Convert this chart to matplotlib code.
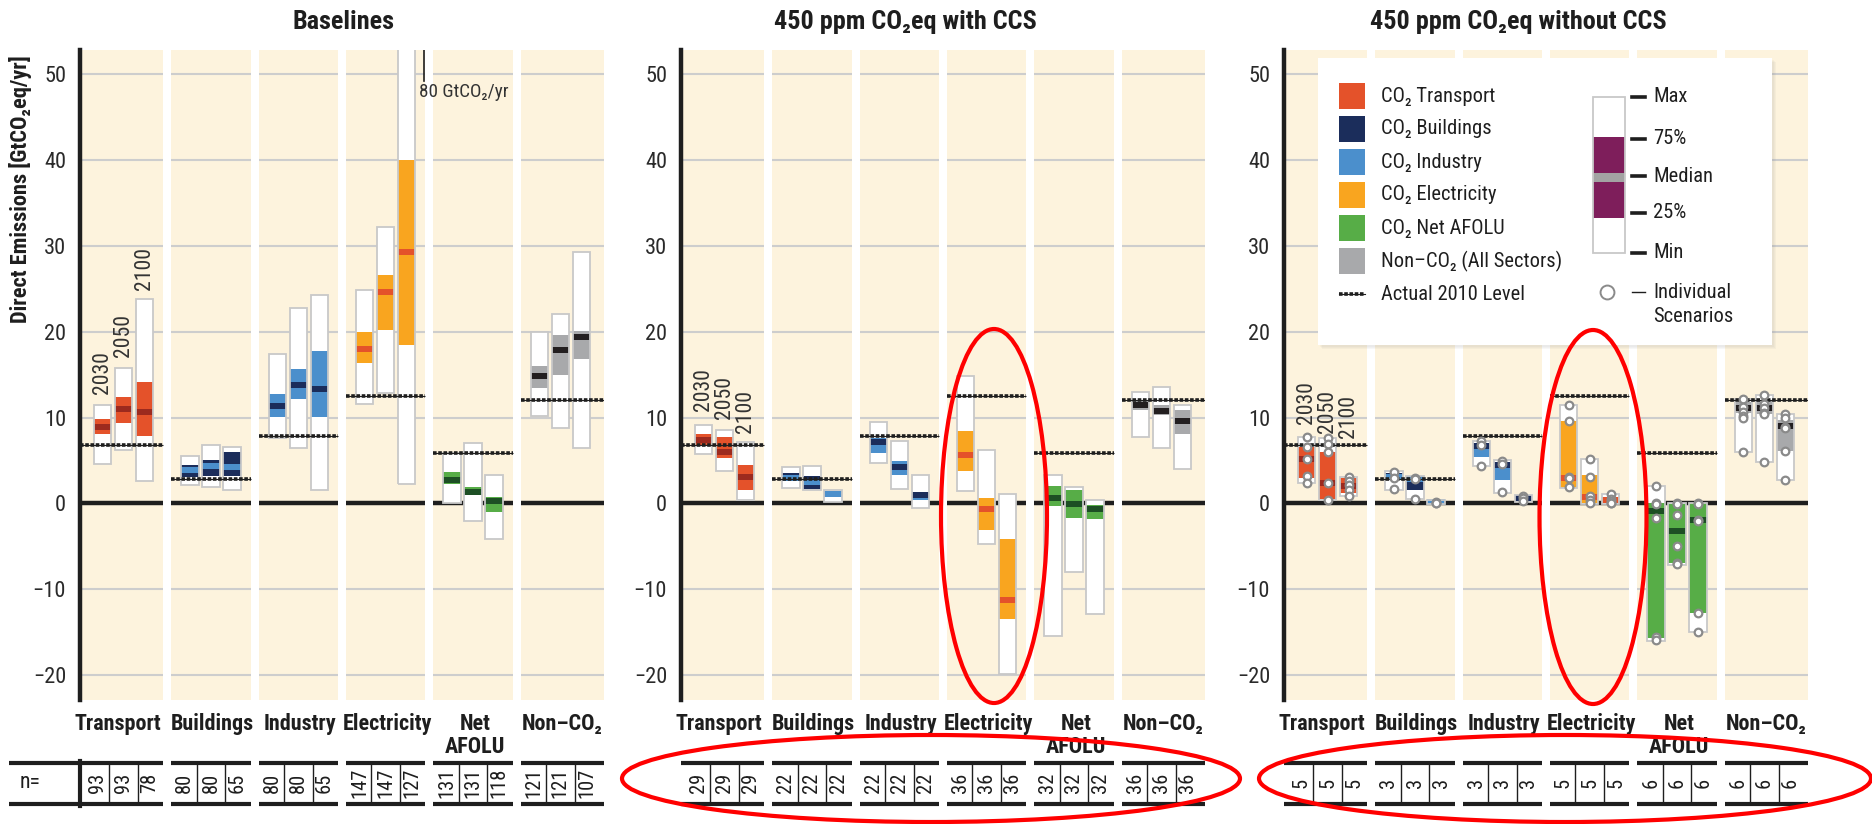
import matplotlib
matplotlib.use("Agg")
import matplotlib.pyplot as plt
from matplotlib import font_manager as fm
from matplotlib.patches import Rectangle, Ellipse
from matplotlib.lines import Line2D
from matplotlib.transforms import blended_transform_factory

sectors = ["Transport", "Buildings", "Industry", "Electricity", "Net\nAFOLU", "Non–CO₂"]
years = ["2030", "2050", "2100"]
legend_labels = ["CO₂ Transport", "CO₂ Buildings", "CO₂ Industry",
                 "CO₂ Electricity", "CO₂ Net AFOLU", "Non–CO₂ (All Sectors)"]

# actual 2010 level per sector (GtCO2eq/yr)
level_2010 = [6.8, 2.8, 7.9, 12.5, 5.9, 12.0]

# Baselines: one row per sector, columns 2030 / 2050 / 2100
base_min = [[4.6, 6.2, 2.6], [2.1, 1.9, 1.5], [7.6, 6.4, 1.5],
            [11.6, 12.8, 2.3], [0.0, -2.1, -4.2], [10.2, 8.8, 6.5]]
base_q25 = [[8.1, 9.35, 7.9], [3.1, 3.2, 3.15], [10.1, 12.2, 10.1],
            [16.4, 20.2, 18.5], [2.3, 0.95, -1.0], [13.4, 14.9, 16.85]]
base_med = [[8.95, 11.0, 10.6], [3.85, 4.3, 4.25], [11.3, 13.8, 13.3],
            [18.0, 24.6, 29.3], [2.75, 1.3, 0.25], [14.8, 17.9, 19.4]]
base_q75 = [[9.85, 12.4, 14.1], [4.5, 5.0, 5.95], [12.7, 15.7, 17.8],
            [20.0, 26.6, 40.0], [3.6, 1.95, 0.7], [16.0, 19.6, 20.1]]
base_max = [[11.4, 15.8, 23.8], [5.5, 6.8, 6.6], [17.4, 22.7, 24.3],
            [24.8, 32.2, 80.0], [5.9, 7.05, 3.3], [19.9, 22.1, 29.3]]
base_n = [[93, 93, 78], [80, 80, 65], [80, 80, 65],
          [147, 147, 127], [131, 131, 118], [121, 121, 107]]

# 450 ppm CO2eq with CCS
ccs_min = [[5.75, 3.8, 0.4], [1.75, 1.6, 0.2], [4.7, 1.7, -0.5],
           [1.45, -4.7, -19.9], [-15.5, -8.05, -12.9], [7.7, 6.4, 4.0]]
ccs_q25 = [[6.65, 5.25, 1.55], [2.6, 1.65, 0.75], [5.9, 3.3, 0.35],
           [3.8, -3.1, -13.5], [-0.3, -1.75, -1.85], [10.9, 10.3, 8.1]]
ccs_med = [[7.4, 6.0, 3.1], [3.0, 2.5, 1.05], [7.1, 4.2, 0.95],
           [5.6, -0.65, -11.2], [0.65, -0.1, -0.65], [11.4, 10.8, 9.55]]
ccs_q75 = [[8.1, 7.7, 4.5], [3.5, 3.15, 1.4], [7.6, 4.9, 1.3],
           [8.45, 0.6, -4.2], [2.0, 1.5, -0.2], [12.0, 11.5, 10.9]]
ccs_max = [[9.1, 8.5, 7.2], [4.2, 4.35, 1.55], [9.5, 7.3, 3.3],
           [14.8, 6.2, 1.05], [3.3, 1.85, 0.45], [13.0, 13.5, 11.5]]
ccs_n = [[29, 29, 29], [22, 22, 22], [22, 22, 22],
         [36, 36, 36], [32, 32, 32], [36, 36, 36]]

# 450 ppm CO2eq without CCS
noccs_min = [[2.4, 0.35, 0.8], [1.6, 0.5, -0.1], [4.35, 1.25, 0.15],
             [1.75, -0.1, -0.1], [-16.0, -7.2, -15.0], [6.0, 4.85, 2.7]]
noccs_q25 = [[2.9, 0.5, 1.2], [2.7, 1.55, 0.0], [5.4, 2.7, 0.3],
             [1.8, 0.1, 0.1], [-15.7, -7.0, -12.8], [10.5, 10.4, 6.1]]
noccs_med = [[5.2, 2.4, 2.05], [3.1, 2.85, 0.15], [6.7, 4.5, 0.6],
             [3.0, 0.7, 0.35], [-0.9, -3.2, -1.9], [11.1, 11.1, 9.0]]
noccs_q75 = [[6.6, 6.0, 2.9], [3.5, 3.0, 0.3], [7.0, 4.7, 0.8],
             [9.6, 3.3, 0.55], [0.0, -0.1, 0.0], [11.8, 12.0, 9.7]]
noccs_max = [[7.7, 7.6, 3.1], [3.8, 3.2, 0.4], [7.3, 5.0, 0.97],
             [11.5, 5.2, 1.1], [2.0, 0.0, 0.0], [12.1, 12.6, 10.4]]
noccs_n = [[5, 5, 5], [3, 3, 3], [3, 3, 3], [5, 5, 5], [6, 6, 6], [6, 6, 6]]

# individual scenarios (without CCS)
noccs_points = [
    [[7.7, 6.6, 5.2, 3.2, 2.4], [7.6, 6.9, 6.0, 2.4, 0.4], [3.1, 2.6, 2.1, 1.5, 0.8]],
    [[3.65, 2.9, 1.65], [3.0, 2.8, 0.5], [0.15, 0.1, 0.05]],
    [[7.3, 6.8, 4.4], [4.9, 4.6, 1.3], [0.8, 0.6, 0.3]],
    [[11.5, 9.6, 3.1, 2.9, 1.85], [5.2, 3.1, 0.8, 0.4, 0.0], [1.1, 0.5, 0.3, 0.1, 0.0]],
    [[2.0, 0.05, -0.05, -1.7, -15.6, -15.9], [0.0, -0.1, -1.4, -5.0, -7.0, -7.1],
     [0.0, -0.1, -1.9, -2.0, -12.8, -15.0]],
    [[12.1, 11.2, 10.6, 10.2, 10.0, 6.0], [12.6, 11.6, 11.1, 10.5, 10.4, 4.85],
     [10.4, 10.0, 8.9, 8.8, 6.1, 2.7]],
]

fill_colors = ["#e4522a", "#1b2d5b", "#4b8fcc", "#f9a51f", "#57ad47", "#a8a9ab"]
median_colors = ["#9c2a1e", "#4b8fcc", "#1b2d5b", "#e4522a", "#1d4f24", "#231f20"]
cream = "#fdf3dd"
ink = "#1e1e1e"


def pick_font():
    # prefer a narrow face; otherwise shrink a regular one to similar widths
    for fam, scale in [("Liberation Sans Narrow", 1.0), ("Roboto Condensed", 0.92),
                       ("Open Sans Condensed", 0.95), ("Arial Narrow", 1.0)]:
        try:
            fm.findfont(fm.FontProperties(family=fam), fallback_to_default=False)
            return fam, scale
        except ValueError:
            pass
    return "Liberation Sans", 0.84


FAMILY, FS = pick_font()
plt.rcParams["font.family"] = [FAMILY, "DejaVu Sans"]

W, H = 1872, 824
fig = plt.figure(figsize=(W / 100, H / 100), dpi=100)


def fx(x):
    return x / W


def fy(y):
    return 1 - y / H


YLIM = (-22.9, 52.8)
offsets = [-0.24, 0.0, 0.24]
bar_w = 0.2


def cat_bounds(i):
    x0 = -0.5 if i == 0 else i - 0.455
    x1 = 5.5 if i == 5 else i + 0.455
    return x0, x1


def draw_panel(left, title, title_x, mins, q25, med, q75, maxs, counts,
               year_y, points=None, n_cell=False):
    ax = fig.add_axes([fx(left), fy(700), 524 / W, 650 / H])
    ax.set_xlim(-0.5, 5.5)
    ax.set_ylim(*YLIM)
    ax.patch.set_visible(False)
    for s in ["top", "right", "bottom"]:
        ax.spines[s].set_visible(False)
    ax.spines["left"].set_linewidth(3.2)
    ax.spines["left"].set_color(ink)
    ax.spines["left"].set_zorder(9)
    ax.set_xticks([])
    ax.set_yticks(range(-20, 51, 10))
    ax.tick_params(axis="y", length=0, pad=10, labelsize=17.5 * FS, labelcolor="#2a2a2a")

    trans = blended_transform_factory(ax.transData, fig.transFigure)

    for i in range(6):
        x0, x1 = cat_bounds(i)
        ax.add_patch(Rectangle((x0, YLIM[0]), x1 - x0, YLIM[1] - YLIM[0],
                               fc=cream, ec="none", zorder=0))
        ax.hlines([-20, -10, 10, 20, 30, 40, 50], x0, x1, colors="#cdcdcd",
                  lw=1.5, zorder=1)
        ax.hlines(0, x0, x1, colors=ink, lw=3.2, zorder=2)

        for j in range(3):
            x = i + offsets[j]
            ax.add_patch(Rectangle((x - bar_w / 2, mins[i][j]), bar_w,
                                   maxs[i][j] - mins[i][j], fc="white",
                                   ec="none", zorder=3))
            ax.add_patch(Rectangle((x - bar_w / 2, q25[i][j]), bar_w,
                                   q75[i][j] - q25[i][j], fc=fill_colors[i],
                                   ec="none", zorder=4))
            ax.add_patch(Rectangle((x - bar_w / 2, med[i][j] - 0.35), bar_w, 0.7,
                                   fc=median_colors[i], ec="none", zorder=5))
            ax.add_patch(Rectangle((x - bar_w / 2, mins[i][j]), bar_w,
                                   maxs[i][j] - mins[i][j], fill=False,
                                   ec="#c8c8c8", lw=1.3, zorder=6))
            if points is not None:
                pts = points[i][j]
                ax.plot([x] * len(pts), pts, "o", ms=5.5, mfc="white",
                        mec="#8a8a8a", mew=1.6, zorder=8)

        # actual 2010 level
        ax.hlines(level_2010[i], x0, x1, colors=ink, lw=0.8, zorder=7)
        ax.hlines(level_2010[i], x0, x1, colors=ink, lw=2.6,
                  linestyles=(0, (1.0, 0.45)), zorder=7)

        # sector label under the panel
        lx = i - 0.07 if i == 0 else i + 0.02
        for k, line in enumerate(sectors[i].split("\n")):
            ax.text(lx, fy(730 + 23 * k), line, transform=trans, ha="center",
                    va="baseline", fontsize=17.3 * FS, fontweight="bold", color=ink,
                    clip_on=False)

        # scenario counts table
        for yy in (763, 804):
            ax.plot([x0, x1], [fy(yy)] * 2, transform=trans, color=ink, lw=3,
                    solid_capstyle="butt", clip_on=False)
        for d in (-0.165, 0.165):
            ax.plot([i + d] * 2, [fy(765), fy(802)], transform=trans,
                    color=ink, lw=1, clip_on=False)
        for j, off in enumerate((-0.30, 0.0, 0.30)):
            ax.text(i + off, fy(783), str(counts[i][j]), transform=trans,
                    rotation=90, ha="center", va="center", fontsize=16 * FS,
                    color=ink, clip_on=False)

    for j in range(3):
        ax.text(offsets[j], year_y[j], years[j], rotation=90, ha="center",
                va="bottom", fontsize=17 * FS, color="#333333", zorder=9)

    fig.text(fx(title_x), fy(22), title, ha="center", va="center",
             fontsize=20.5 * FS, fontweight="bold", color=ink)

    if n_cell:
        fig.add_artist(Line2D([fx(9), fx(left)], [fy(763)] * 2, color=ink, lw=3,
                              solid_capstyle="butt"))
        fig.add_artist(Line2D([fx(9), fx(left)], [fy(804)] * 2, color=ink, lw=3,
                              solid_capstyle="butt"))
        fig.add_artist(Line2D([fx(left)] * 2, [fy(761), fy(806)], color=ink, lw=3))
        fig.text(fx(30), fy(783), "n=", ha="center", va="center", fontsize=17 * FS,
                 color=ink)
    return ax


ax1 = draw_panel(80, "Baselines", 343, base_min, base_q25, base_med, base_q75,
                 base_max, base_n, [12.7, 17.0, 24.9], n_cell=True)
ax2 = draw_panel(681, "450 ppm CO₂eq with CCS", 905, ccs_min, ccs_q25, ccs_med,
                 ccs_q75, ccs_max, ccs_n, [10.7, 9.8, 8.25])
ax3 = draw_panel(1284, "450 ppm CO₂eq without CCS", 1518, noccs_min, noccs_q25,
                 noccs_med, noccs_q75, noccs_max, noccs_n, [9.2, 8.25, 7.6],
                 points=noccs_points)

# off-scale baseline electricity maximum
ax1.plot([3.44, 3.44], [49.2, 53], color=ink, lw=1.2, zorder=9)
ax1.text(3.38, 47.9, "80 GtCO₂/yr", ha="left", va="center", fontsize=15 * FS,
         color="#333333", zorder=9)

fig.text(fx(21), fy(189), "Direct Emissions [GtCO₂eq/yr]", rotation=90,
         ha="center", va="center", fontsize=17.5 * FS, fontweight="bold", color=ink)

# legend box
LT, LB = 58, 345
for k, a in enumerate((0.05, 0.05, 0.06)):
    fig.add_artist(Rectangle((fx(1318 + 2 + k), fy(LB + 2 + k)), 454 / W, (LB - LT) / H,
                             transform=fig.transFigure, fc="#808080", alpha=a,
                             ec="none", zorder=10))
fig.add_artist(Rectangle((fx(1318), fy(LB)), 454 / W, (LB - LT) / H,
                         transform=fig.transFigure, fc="white", ec="none",
                         zorder=11))
rows = [96, 129, 162, 195, 228, 261]
for k, row in enumerate(rows):
    fig.add_artist(Rectangle((fx(1339), fy(row + 12.5)), 26 / W, 25 / H,
                             transform=fig.transFigure, fc=fill_colors[k],
                             ec="none", zorder=12))
    fig.text(fx(1381), fy(row), legend_labels[k], ha="left", va="center",
             fontsize=16 * FS, color=ink, zorder=12)
fig.add_artist(Line2D([fx(1339), fx(1365)], [fy(294)] * 2, color=ink, lw=0.8,
                      zorder=12))
fig.add_artist(Line2D([fx(1339), fx(1365)], [fy(294)] * 2, color=ink, lw=2.6,
                      linestyle=(0, (1.0, 0.45)), zorder=12))
fig.text(fx(1381), fy(294), "Actual 2010 Level", ha="left", va="center",
         fontsize=16 * FS, color=ink, zorder=12)

BX = 1593
fig.add_artist(Rectangle((fx(BX), fy(253)), 32 / W, 156 / H,
                         transform=fig.transFigure, fc="white", ec="none",
                         zorder=12))
fig.add_artist(Rectangle((fx(BX), fy(218)), 32 / W, 81 / H,
                         transform=fig.transFigure, fc="#7e1e5b", ec="none",
                         zorder=12))
fig.add_artist(Rectangle((fx(BX), fy(182)), 32 / W, 9 / H,
                         transform=fig.transFigure, fc="#a3a3a3", ec="none",
                         zorder=12))
fig.add_artist(Rectangle((fx(BX), fy(253)), 32 / W, 156 / H,
                         transform=fig.transFigure, fill=False, ec="#c8c8c8",
                         lw=1.3, zorder=12))
for yy, lab in zip([97, 139, 176, 213, 253], ["Max", "75%", "Median", "25%", "Min"]):
    fig.add_artist(Line2D([fx(1632), fx(1645)], [fy(yy)] * 2, color=ink, lw=2.6,
                          zorder=12))
    fig.text(fx(1653), fy(yy), lab, ha="left", va="center", fontsize=16 * FS,
             color=ink, zorder=12)
fig.add_artist(Line2D([fx(1607)], [fy(292)], marker="o", ms=10, mfc="white",
                      mec="#8a8a8a", mew=1.4, zorder=12))
fig.add_artist(Line2D([fx(1632), fx(1645)], [fy(292)] * 2, color=ink, lw=1,
                      zorder=12))
fig.text(fx(1653), fy(292), "Individual", ha="left", va="center", fontsize=16 * FS,
         color=ink, zorder=12)
fig.text(fx(1653), fy(317), "Scenarios", ha="left", va="center", fontsize=16 * FS,
         color=ink, zorder=12)

# red highlight ellipses
for cx, cy, w, h in [(994, 516, 106, 374), (1593, 517, 107, 374),
                     (931, 778.5, 618, 87), (1565, 778.5, 612, 87)]:
    fig.add_artist(Ellipse((fx(cx), fy(cy)), w / W, h / H,
                           transform=fig.transFigure, fill=False, ec="#ff0000",
                           lw=3, zorder=20))

fig.savefig("out.png", dpi=100)
